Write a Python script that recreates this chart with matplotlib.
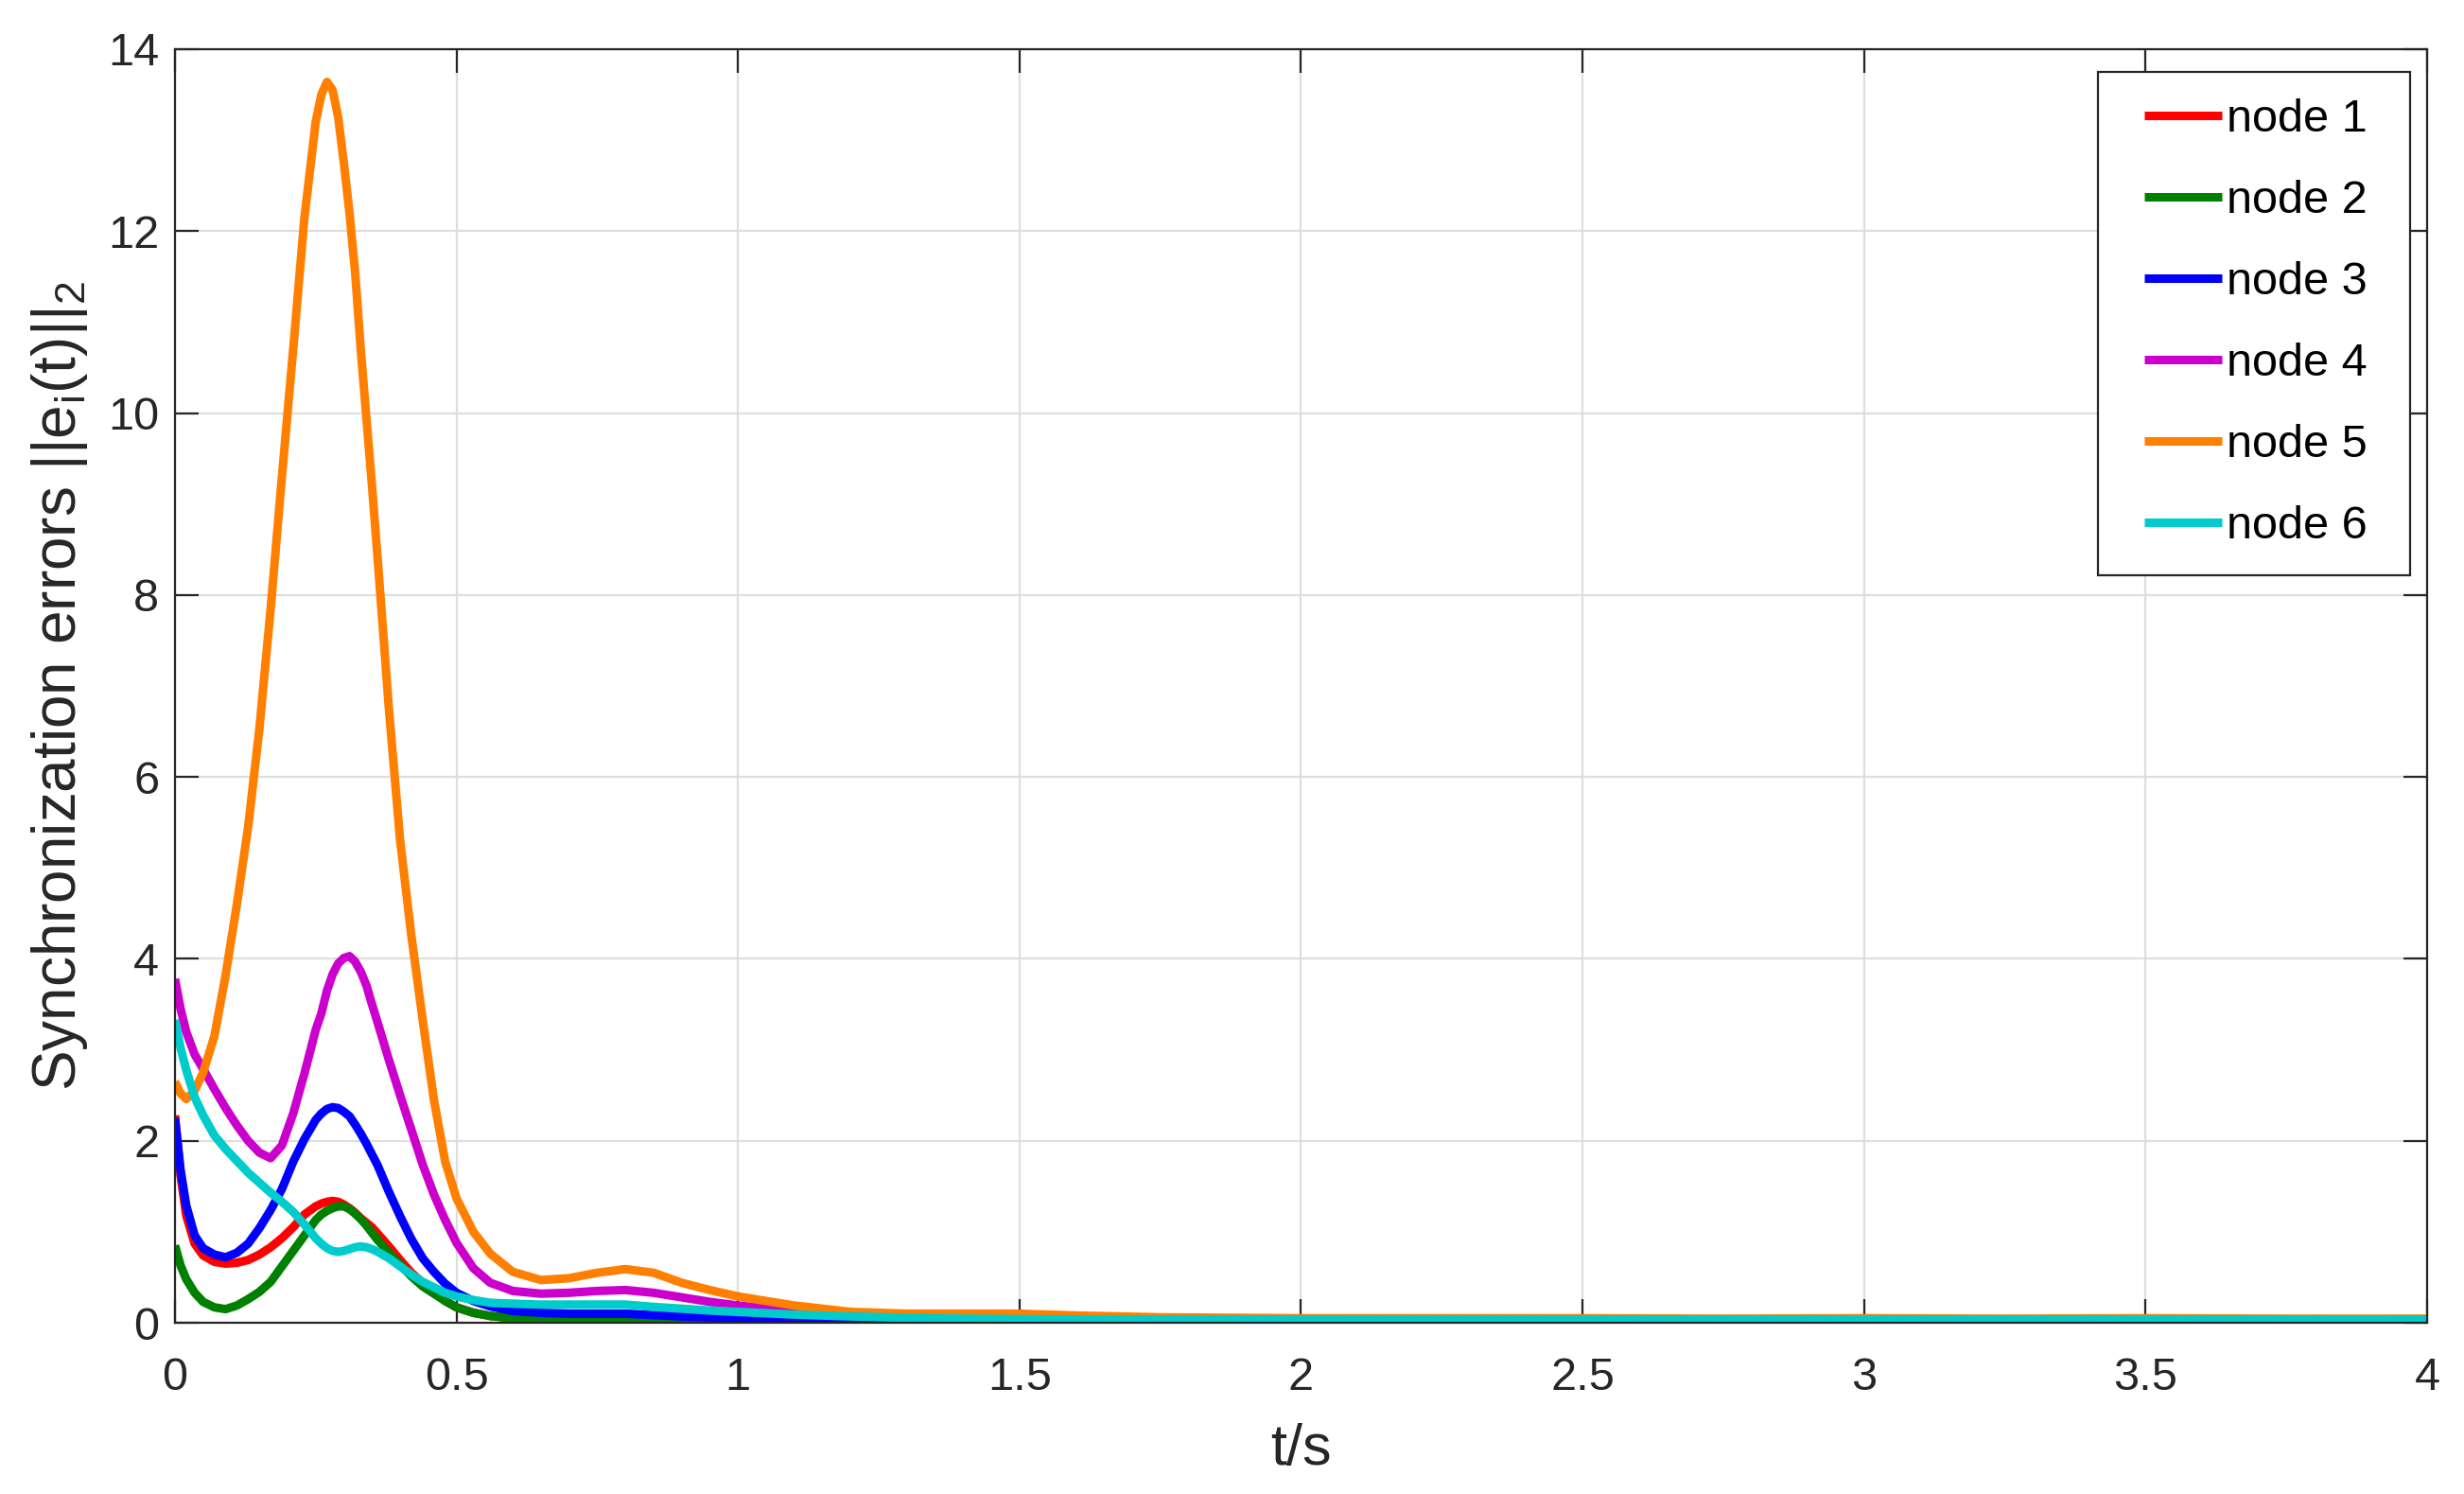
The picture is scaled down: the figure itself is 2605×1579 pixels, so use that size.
import matplotlib
matplotlib.use("Agg")
import matplotlib.pyplot as plt
from matplotlib.lines import Line2D
from matplotlib.legend_handler import HandlerLine2D
from matplotlib.ticker import FormatStrFormatter

plt.rcParams['font.family'] = ['Liberation Sans', 'DejaVu Sans']
plt.rcParams['mathtext.fontset'] = 'custom'
plt.rcParams['mathtext.rm'] = 'Liberation Sans'

# time samples (s)
t = [0, 0.01, 0.02, 0.035, 0.05, 0.07, 0.09, 0.11, 0.13, 0.15,
     0.17, 0.19, 0.21, 0.23, 0.25, 0.26, 0.27, 0.28, 0.29, 0.30,
     0.31, 0.32, 0.33, 0.34, 0.35, 0.36, 0.38, 0.40, 0.42, 0.44,
     0.46, 0.48, 0.50, 0.53, 0.56, 0.60, 0.65, 0.70, 0.75, 0.80,
     0.85, 0.90, 0.95, 1.00, 1.10, 1.20, 1.30, 1.40, 1.50, 1.60,
     1.75, 2.0, 2.25, 2.5, 2.75, 3.0, 3.25, 3.5, 3.75, 4.0]

node1 = [2.28, 1.62, 1.18, 0.87, 0.74, 0.67, 0.65, 0.66, 0.69, 0.75,
         0.83, 0.93, 1.05, 1.19, 1.28, 1.31, 1.33, 1.34, 1.33, 1.30,
         1.26, 1.21, 1.15, 1.10, 1.05, 0.98, 0.84, 0.69, 0.55, 0.44,
         0.33, 0.24, 0.17, 0.11, 0.075, 0.05, 0.04, 0.035, 0.03, 0.03,
         0.025, 0.02, 0.018, 0.015, 0.012, 0.01, 0.008, 0.008, 0.007, 0.007,
         0.006, 0.006, 0.006, 0.005, 0.006, 0.005, 0.006, 0.005, 0.006, 0.005]

node2 = [0.85, 0.63, 0.48, 0.33, 0.23, 0.17, 0.15, 0.19, 0.26, 0.34,
         0.45, 0.62, 0.79, 0.96, 1.13, 1.19, 1.23, 1.26, 1.28, 1.28,
         1.25, 1.20, 1.14, 1.07, 0.99, 0.91, 0.77, 0.64, 0.51, 0.40,
         0.32, 0.24, 0.17, 0.11, 0.075, 0.05, 0.04, 0.04, 0.04, 0.04,
         0.035, 0.03, 0.025, 0.02, 0.015, 0.012, 0.01, 0.008, 0.007, 0.007,
         0.006, 0.006, 0.005, 0.006, 0.005, 0.006, 0.005, 0.006, 0.005, 0.005]

node3 = [2.25, 1.68, 1.29, 0.96, 0.82, 0.75, 0.72, 0.77, 0.87, 1.04,
         1.24, 1.47, 1.77, 2.02, 2.23, 2.30, 2.35, 2.37, 2.36, 2.32,
         2.27, 2.18, 2.08, 1.97, 1.85, 1.73, 1.44, 1.17, 0.92, 0.71,
         0.56, 0.43, 0.33, 0.24, 0.18, 0.13, 0.11, 0.10, 0.10, 0.10,
         0.085, 0.07, 0.06, 0.05, 0.035, 0.02, 0.015, 0.012, 0.01, 0.009,
         0.008, 0.008, 0.007, 0.008, 0.007, 0.008, 0.007, 0.008, 0.007, 0.007]

node4 = [3.78, 3.45, 3.20, 2.95, 2.79, 2.57, 2.36, 2.17, 2.00, 1.87,
         1.81, 1.95, 2.30, 2.74, 3.22, 3.40, 3.65, 3.83, 3.95, 4.01,
         4.03, 3.97, 3.86, 3.71, 3.50, 3.30, 2.89, 2.50, 2.12, 1.74,
         1.41, 1.13, 0.88, 0.60, 0.44, 0.35, 0.32, 0.33, 0.35, 0.36,
         0.33, 0.28, 0.23, 0.19, 0.13, 0.08, 0.05, 0.04, 0.035, 0.03,
         0.028, 0.025, 0.025, 0.024, 0.025, 0.024, 0.025, 0.024, 0.025, 0.024]

node5 = [2.65, 2.52, 2.46, 2.55, 2.75, 3.15, 3.82, 4.60, 5.45, 6.53,
         7.85, 9.30, 10.70, 12.15, 13.20, 13.50, 13.64, 13.55, 13.25, 12.75,
         12.20, 11.55, 10.70, 9.95, 9.20, 8.40, 6.75, 5.30, 4.25, 3.33,
         2.45, 1.77, 1.37, 1.00, 0.76, 0.56, 0.47, 0.49, 0.55, 0.59,
         0.55, 0.44, 0.36, 0.29, 0.19, 0.12, 0.10, 0.10, 0.10, 0.08,
         0.06, 0.05, 0.05, 0.05, 0.045, 0.05, 0.045, 0.05, 0.045, 0.045]

node6 = [3.33, 3.02, 2.78, 2.48, 2.28, 2.06, 1.91, 1.78, 1.65, 1.54,
         1.43, 1.33, 1.22, 1.08, 0.93, 0.87, 0.82, 0.79, 0.78, 0.79,
         0.81, 0.83, 0.84, 0.83, 0.81, 0.78, 0.71, 0.62, 0.53, 0.45,
         0.39, 0.33, 0.29, 0.25, 0.22, 0.21, 0.20, 0.20, 0.20, 0.20,
         0.175, 0.155, 0.135, 0.12, 0.09, 0.07, 0.055, 0.045, 0.04, 0.037,
         0.035, 0.035, 0.034, 0.035, 0.034, 0.035, 0.034, 0.035, 0.034, 0.035]

series = [node1, node2, node3, node4, node5, node6]
labels = ["node 1", "node 2", "node 3", "node 4", "node 5", "node 6"]
colors = ["#ff0000", "#008000", "#0000ff", "#cc00cc", "#ff8000", "#00cccc"]

xticks = [0, 0.5, 1, 1.5, 2, 2.5, 3, 3.5, 4]
yticks = [0, 2, 4, 6, 8, 10, 12, 14]

dark = "#262626"

fig = plt.figure(figsize=(26.05, 15.79), dpi=100)
ax = fig.add_axes([0.0710, 0.1146, 0.9140, 0.8525])

for y, lab, c in zip(series, labels, colors):
    ax.plot(t, y, color=c, linewidth=6.5, label=lab,
            solid_joinstyle="round", solid_capstyle="butt")

ax.set_xlim(0, 4)
ax.set_ylim(0, 14)
ax.set_xticks(xticks)
ax.set_yticks(yticks)
ax.xaxis.set_major_formatter(FormatStrFormatter("%g"))
ax.yaxis.set_major_formatter(FormatStrFormatter("%g"))

ax.grid(True, color="#dedede", linewidth=1.6)
ax.set_axisbelow(True)
for s in ax.spines.values():
    s.set_color(dark)
    s.set_linewidth(1.6)

ax.tick_params(axis="both", direction="in", length=18, width=1.6, color=dark,
               labelcolor=dark, labelsize=35, top=True, right=True)
ax.tick_params(axis="x", pad=26)
ax.tick_params(axis="y", pad=12)

ax.set_xlabel("t/s", fontsize=44, color=dark, labelpad=18)
ax.set_ylabel(r"Synchronization errors $\mathregular{||e_i(t)||_2}$",
              fontsize=46, color=dark, labelpad=14)

leg = ax.legend(loc="upper left", mode="expand", borderaxespad=0,
                bbox_to_anchor=(0.8514, 0.62, 0.1267, 0.332),
                bbox_transform=fig.transFigure,
                fontsize=35, borderpad=0.58, labelspacing=0.845,
                handlelength=2.55, handletextpad=-0.32,
                handler_map={Line2D: HandlerLine2D(marker_pad=0.44, numpoints=2)},
                fancybox=False, framealpha=1, edgecolor=dark)
leg.get_frame().set_linewidth(1.6)

fig.savefig("out.png", dpi=100)
